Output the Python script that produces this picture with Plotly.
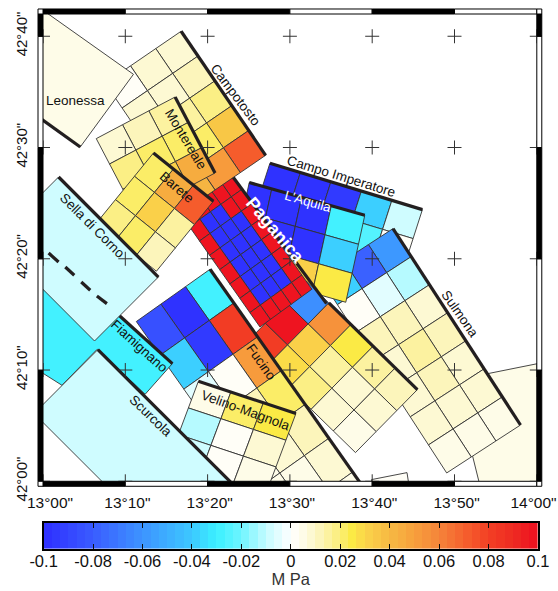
import plotly.graph_objects as go

# All positions below are in arc-minutes east of 13 deg 00' and north of 42 deg 00'.
LON_TICK_LABELS = ['13°00"', '13°10"', '13°20"', '13°30"', '13°40"', '13°50"', '14°00"']
LAT_TICK_LABELS = ['42°00"', '42°10"', '42°20"', '42°30"', '42°40"']
LON_TICK_MIN = [0, 10, 20, 30, 40, 50, 60]
LON_LABEL_MIN = [0.85, 10.25, 20.25, 30.25, 40.25, 50.25, 59.6]
LAT_TICK_MIN = [0, 10, 20, 30, 40]
LAT_TOP_MIN = 42

CBAR_TICKS = [-0.1, -0.08, -0.06, -0.04, -0.02, 0, 0.02, 0.04, 0.06, 0.08, 0.1]
CBAR_LABELS = ['-0.1', '-0.08', '-0.06', '-0.04', '-0.02', '0', '0.02', '0.04', '0.06', '0.08', '0.1']
CBAR_LEVELS = 60
CMAP_VALUES = [-0.1, -0.08, -0.06, -0.04, -0.03, -0.02, -0.01, 0, 0.005, 0.01, 0.015, 0.02, 0.025, 0.03,
               0.04, 0.05, 0.06, 0.07, 0.08, 0.09, 0.1]
CMAP_COLORS = ['#2e2eff', '#3a5cff', '#3d94ff', '#3dc8ff', '#3af0ff', '#6ef5ff', '#c5fbff', '#ffffff',
               '#fefce8', '#fcf7c8', '#fcf2a0', '#fbee78', '#fbea45', '#fbd54a', '#f6b943', '#f7a03c',
               '#f5843a', '#f5622e', '#f34025', '#ee2a22', '#ee1020']

# Single-patch faults (polygon outlines) -------------------------------------
LEONESSA_POLY = [(10.99, 36.58), (4.53, 30.05), (-9.18, 37.33), (-2.75, 43.78)]
LEONESSA_TRACE = [(4.53, 30.05), (-9.18, 37.33)]
LEONESSA_VALUE = 0.004
SELLA_POLY = [(1.89, 27.35), (14.02, 18.36), (6.26, 12.61), (-5.87, 21.60)]
SELLA_TRACE = [(1.89, 27.35), (14.02, 18.36)]
SELLA_VALUE = -0.008
SELLA_DASHES = [[(0.68, 20.52), (1.89, 19.71)], [(2.71, 19.26), (3.80, 18.52)],
                [(4.65, 17.91), (5.74, 17.17)], [(6.55, 16.66), (7.76, 15.97)]]
FIAMIGNANO_POLY = [(-1.54, 22.11), (15.72, 10.58), (12.41, 7.82), (6.59, 11.87), (2.30, 8.63), (-1.54, 10.43)]
FIAMIGNANO_TRACE = [(8.56, 15.37), (15.72, 10.58)]
FIAMIGNANO_VALUE = -0.03
SCURCOLA_POLY = [(6.67, 11.84), (26.97, -3.15), (19.20, -8.90), (-1.09, 6.09)]
SCURCOLA_TRACE = [(6.67, 11.84), (26.97, -3.15)]
SCURCOLA_VALUE = -0.008
EAST_POLY = [(51.84, 9.35), (63.97, 11.15), (63.97, -5.30), (54.74, -5.30), (51.72, 3.69)]
EAST_VALUE = 0.004
SOUTH_POLY = [(39.91, 0.15), (44.23, 0.78), (44.56, -0.81), (40.31, -1.44)]
SOUTH_VALUE = 0.003

# Gridded faults: corners are (top-start, top-end, bottom-end, bottom-start) --
CAMPOTOSTO_CORNERS = [(16.78, 40.45), (27.05, 29.30), (17.83, 24.63), (7.56, 35.78)]
CAMPOTOSTO_VALUES = [[0.008, 0.011, 0.019, 0.036, 0.07],
                     [0.008, 0.009, 0.014, 0.023, 0.05],
                     [0.003, 0.007, 0.012, 0.018, 0.042]]
MONTEREALE_CORNERS = [(16.05, 34.54), (20.90, 27.71), (11.32, 23.96), (6.47, 30.80)]
MONTEREALE_VALUES = [[0.014, 0.022, 0.045],
                     [0.013, 0.021, 0.03],
                     [0.009, 0.017, 0.018]]
BARETE_CORNERS = [(13.42, 29.51), (20.70, 25.17), (13.78, 18.88), (6.50, 23.22)]
BARETE_VALUES = [[0.022, 0.045, 0.07],
                 [0.023, 0.031, 0.014],
                 [0.017, 0.02, 0.011]]
FUCINO_CORNERS = [(20.30, 19.06), (40.51, -2.21), (31.55, -6.90), (11.34, 14.36)]
FUCINO_VALUES = [[-0.03, 0.082, 0.05, 0.02, 0.01, 0.007, 0.005],
                 [-0.1, -0.095, 0.0005, 0.012, 0.007, 0.005, 0.004],
                 [-0.085, -0.04, -0.005, 0.0005, 0.004, 0.004, 0.003]]
VELINO_CORNERS = [(18.88, 8.99), (30.73, 6.09), (27.09, -1.11), (15.24, 1.80)]
VELINO_VALUES = [[0.004, 0.022, 0.024],
                 [-0.013, 0.0005, 0.007],
                 [-0.008, 0.0005, 0.006]]
PAGANICA_CORNERS = [(22.93, 27.51), (32.67, 17.26), (26.36, 13.87), (16.57, 24.18)]
PAGANICA_VALUES = [[0.1, 0.1, 0.1, 0.1, 0.1, 0.1, 0.1, 0.1],
                   [0.1, 0.1, -0.1, -0.1, -0.1, -0.1, -0.1, 0.1],
                   [0.1, -0.1, -0.1, -0.1, -0.1, -0.1, -0.1, 0.1],
                   [0.1, -0.1, -0.1, -0.1, -0.1, -0.1, -0.1, 0.1],
                   [0.1, 0.1, 0.1, 0.1, 0.1, 0.1, 0.1, 0.1]]
PAGANICA_TRACE = [(22.93, 27.51), (34.45, 15.97)]
SOUTHEAST_CORNERS = [(32.03, 17.98), (45.49, 8.24), (37.97, 2.58), (24.51, 12.31)]
SOUTHEAST_VALUES = [[-0.062, 0.055, 0.024, 0.016, 0.011],
                    [0.098, 0.031, 0.014, 0.008, 0.009],
                    [0.082, 0.027, 0.017, 0.008, 0.004]]
SOUTHEAST_TRACE = [(34.73, 16.03), (45.49, 8.24)]
LAQUILA_CORNERS = [(25.06, 26.85), (39.10, 23.91), (36.79, 16.09), (22.76, 19.03)]
LAQUILA_ALONG = [0, 0.195, 0.453, 0.71, 1]
LAQUILA_VALUES = [[-0.1, -0.1, -0.1, -0.03],
                  [-0.1, -0.1, -0.1, -0.04],
                  [-0.1, -0.1, 0.031, 0.026]]
CAMPO_CORNERS = [(27.57, 28.58), (46.10, 24.42), (42.70, 16.60), (24.18, 20.76)]
CAMPO_VALUES = [[-0.1, -0.1, -0.095, -0.04, -0.008],
                [-0.1, -0.1, -0.1, -0.025, 0.003],
                [-0.1, -0.1, -0.1, -0.04, 0.003]]
SULMONA_CORNERS = [(42.53, 22.71), (58.02, 5.06), (49.05, 0.75), (33.56, 18.40)]
SULMONA_VALUES = [[-0.06, -0.013, 0.008, 0.01, 0.008, 0.007, 0.004],
                  [-0.08, -0.005, 0.011, 0.014, 0.010, 0.008, 0.005],
                  [-0.04, 0.003, 0.011, 0.009, 0.009, 0.007, 0.005]]

# Labels -----------------------------------------------------------------------
LABEL_TEXT = ['Leonessa', 'Campotosto', 'Montereale', 'Barete', 'Sella di Corno', 'Fiamignano', 'Scurcola',
              'Velino-Magnola', 'Fucino', "L'Aquila", 'Campo Imperatore', 'Sulmona', 'Paganica']
LABEL_LON = [3.92, 23.45, 17.38, 16.29, 5.98, 11.77, 13.02, 24.66, 26.57, 32.18, 36.31, 50.71, 28.18]
LABEL_LAT = [34.25, 34.70, 30.74, 26.43, 23.01, 12.13, 5.87, 6.38, 10.72, 25.11, 27.42, 15.01, 22.55]
LABEL_ANGLE = [0, 53, 59, 41, 45, 42, 44, 20, 55, 16, 17, 55, 50]
LABEL_COLOR = ['#111111'] * 9 + ['white', '#111111', '#111111', 'white']
LABEL_SIZE = [13.5] * 12 + [18]
LABEL_BOLD = [False] * 12 + [True]

FONT = 'Liberation Sans, Arial, sans-serif'
THIN = '#333333'
THICK = '#231f20'


def lon(m):
    return 13 + m / 60


def lat(m):
    return 42 + m / 60


def hex_rgb(h):
    return tuple(int(h[i:i + 2], 16) for i in (1, 3, 5))


def cmap(v):
    v = max(CMAP_VALUES[0], min(CMAP_VALUES[-1], v))
    for a, b, ca, cb in zip(CMAP_VALUES, CMAP_VALUES[1:], CMAP_COLORS, CMAP_COLORS[1:]):
        if v <= b:
            t = (v - a) / (b - a)
            ra, rb = hex_rgb(ca), hex_rgb(cb)
            return 'rgb(%d,%d,%d)' % tuple(round(x + (y - x) * t) for x, y in zip(ra, rb))
    return CMAP_COLORS[-1]


def level(v):
    step = 0.2 / CBAR_LEVELS
    i = min(CBAR_LEVELS - 1, max(0, int((v + 0.1) / step)))
    return -0.1 + (i + 0.5) * step


fig = go.Figure()


def polygon(points, value):
    xs = [lon(p[0]) for p in points] + [lon(points[0][0])]
    ys = [lat(p[1]) for p in points] + [lat(points[0][1])]
    fig.add_trace(go.Scatter(x=xs, y=ys, mode='lines', fill='toself', fillcolor=cmap(level(value)),
                             line=dict(color=THIN, width=0.9), hoverinfo='skip', showlegend=False))


def trace_line(points):
    fig.add_trace(go.Scatter(x=[lon(p[0]) for p in points], y=[lat(p[1]) for p in points], mode='lines',
                             line=dict(color=THICK, width=3.2), hoverinfo='skip', showlegend=False))


def grid(corners, values, along=None, trace=None, thick=True):
    nrow, ncol = len(values), len(values[0])
    al = along or [i / ncol for i in range(ncol + 1)]
    a, b, c, d = corners

    def pt(u, v):
        top = (a[0] + (b[0] - a[0]) * u, a[1] + (b[1] - a[1]) * u)
        bot = (d[0] + (c[0] - d[0]) * u, d[1] + (c[1] - d[1]) * u)
        return (top[0] + (bot[0] - top[0]) * v, top[1] + (bot[1] - top[1]) * v)

    for r in range(nrow):
        for k in range(ncol):
            v0, v1 = r / nrow, (r + 1) / nrow
            polygon([pt(al[k], v0), pt(al[k + 1], v0), pt(al[k + 1], v1), pt(al[k], v1)], values[r][k])
    if thick:
        trace_line(trace or [a, b])


# Drawn back to front
polygon(EAST_POLY, EAST_VALUE)
polygon(SOUTH_POLY, SOUTH_VALUE)
grid(CAMPO_CORNERS, CAMPO_VALUES)
grid(SULMONA_CORNERS, SULMONA_VALUES)
grid(LAQUILA_CORNERS, LAQUILA_VALUES, along=LAQUILA_ALONG)
grid(SOUTHEAST_CORNERS, SOUTHEAST_VALUES, trace=SOUTHEAST_TRACE)
grid(PAGANICA_CORNERS, PAGANICA_VALUES, trace=PAGANICA_TRACE)
grid(CAMPOTOSTO_CORNERS, CAMPOTOSTO_VALUES)
polygon(LEONESSA_POLY, LEONESSA_VALUE)
trace_line(LEONESSA_TRACE)
grid(MONTEREALE_CORNERS, MONTEREALE_VALUES)
grid(BARETE_CORNERS, BARETE_VALUES)
grid(FUCINO_CORNERS, FUCINO_VALUES)
grid(VELINO_CORNERS, VELINO_VALUES)
polygon(FIAMIGNANO_POLY, FIAMIGNANO_VALUE)
trace_line(FIAMIGNANO_TRACE)
polygon(SELLA_POLY, SELLA_VALUE)
trace_line(SELLA_TRACE)
for dash_segment in SELLA_DASHES:
    trace_line(dash_segment)
polygon(SCURCOLA_POLY, SCURCOLA_VALUE)
trace_line(SCURCOLA_TRACE)

# Graticule crosses
cx = [lon(a) for a in LON_TICK_MIN for _ in LAT_TICK_MIN]
cy = [lat(b) for _ in LON_TICK_MIN for b in LAT_TICK_MIN]
fig.add_trace(go.Scatter(x=cx, y=cy, mode='markers', hoverinfo='skip', showlegend=False,
                         marker=dict(symbol='cross-thin', size=10, line=dict(color='#333333', width=1))))

# Colour bar
step = 0.2 / CBAR_LEVELS
centers = [-0.1 + (i + 0.5) * step for i in range(CBAR_LEVELS)]
scale = [[(v + 0.1) / 0.2, c] for v, c in zip(CMAP_VALUES, CMAP_COLORS)]
fig.add_trace(go.Heatmap(x=centers, y=[0], z=[centers], colorscale=scale, zmin=-0.1, zmax=0.1,
                         showscale=False, xaxis='x2', yaxis='y2', hoverinfo='skip'))

# Layout geometry (pixels)
W, H = 558, 591
ML, MR, MT, MB = 42.7, 19.5, 13.75, 42.3
area_w, area_h = W - ML - MR, H - MT - MB
map_w, map_h = 494.6, 467.25
cbar_h = 26.4
cbar_left = 0.6

shapes = []
pad_x, pad_y = 5 / map_w, 5 / map_h


def band(x0, x1, y0, y1, black):
    shapes.append(dict(type='rect', xref='x domain', yref='y domain', x0=x0, x1=x1, y0=y0, y1=y1,
                       fillcolor='black' if black else 'white', line=dict(color='black', width=1), layer='above'))


for i in range(len(LON_TICK_MIN) - 1):
    x0, x1 = LON_TICK_MIN[i] / 60, LON_TICK_MIN[i + 1] / 60
    band(x0, x1, 1, 1 + pad_y, i % 2 == 0)
    band(x0, x1, -pad_y, 0, i % 2 == 0)
ybreaks = LAT_TICK_MIN + [LAT_TOP_MIN]
for i in range(len(ybreaks) - 1):
    y0, y1 = ybreaks[i] / LAT_TOP_MIN, ybreaks[i + 1] / LAT_TOP_MIN
    band(-pad_x, 0, y0, y1, i % 2 == 0)
    band(1, 1 + pad_x, y0, y1, i % 2 == 0)
for cxx in (-pad_x, 1):
    for cyy in (-pad_y, 1):
        band(cxx, cxx + pad_x, cyy, cyy + pad_y, False)

annotations = []
for t, a, b, ang, col, sz, bold in zip(LABEL_TEXT, LABEL_LON, LABEL_LAT, LABEL_ANGLE, LABEL_COLOR, LABEL_SIZE, LABEL_BOLD):
    annotations.append(dict(x=lon(a), y=lat(b), xref='x', yref='y', text=f'<b>{t}</b>' if bold else t,
                            showarrow=False, textangle=ang, font=dict(family=FONT, size=sz, color=col)))

fig.update_layout(
    width=W, height=H, template=None,
    margin=dict(l=ML, r=MR, t=MT, b=MB, autoexpand=False, pad=0),
    paper_bgcolor='white', plot_bgcolor='white',
    font=dict(family=FONT, color='#111111'),
    shapes=shapes, annotations=annotations, showlegend=False,
    xaxis=dict(domain=[0, map_w / area_w], range=[13, 14], anchor='y', showgrid=False, zeroline=False,
               tickvals=[lon(m) for m in LON_LABEL_MIN], ticktext=LON_TICK_LABELS,
               ticks='outside', ticklen=7, tickcolor='rgba(0,0,0,0)', tickangle=0, ticklabeloverflow='allow',
               tickfont=dict(family=FONT, size=15.5, color='#111111')),
    yaxis=dict(domain=[1 - map_h / area_h, 1], range=[42, 42 + LAT_TOP_MIN / 60], anchor='x', showgrid=False,
               zeroline=False, tickvals=[lat(m) for m in LAT_TICK_MIN], ticktext=LAT_TICK_LABELS,
               ticks='outside', ticklen=9, tickcolor='rgba(0,0,0,0)', tickangle=-90, ticklabeloverflow='allow',
               tickfont=dict(family=FONT, size=15, color='#111111')),
    xaxis2=dict(domain=[cbar_left / area_w, 1], range=[-0.1, 0.1], anchor='y2', showgrid=False, zeroline=False,
                tickvals=CBAR_TICKS, ticktext=CBAR_LABELS, ticks='inside', ticklen=5, tickwidth=1, tickcolor='#111111',
                showline=True, linecolor='black', linewidth=2, mirror='ticks', tickangle=0, ticklabeloverflow='allow',
                ticklabelstandoff=-4,
                tickfont=dict(family=FONT, size=16.5, color='#111111'),
                title=dict(text='M Pa', font=dict(family=FONT, size=16.5, color='#333333'), standoff=5)),
    yaxis2=dict(domain=[0, cbar_h / area_h], range=[-0.5, 0.5], anchor='x2', showgrid=False, zeroline=False,
                showticklabels=False, ticks='', showline=True, linecolor='black', linewidth=2, mirror=True),
)

fig.write_html('out.html', config={'displayModeBar': False}, post_script="document.body.style.margin='0';")
